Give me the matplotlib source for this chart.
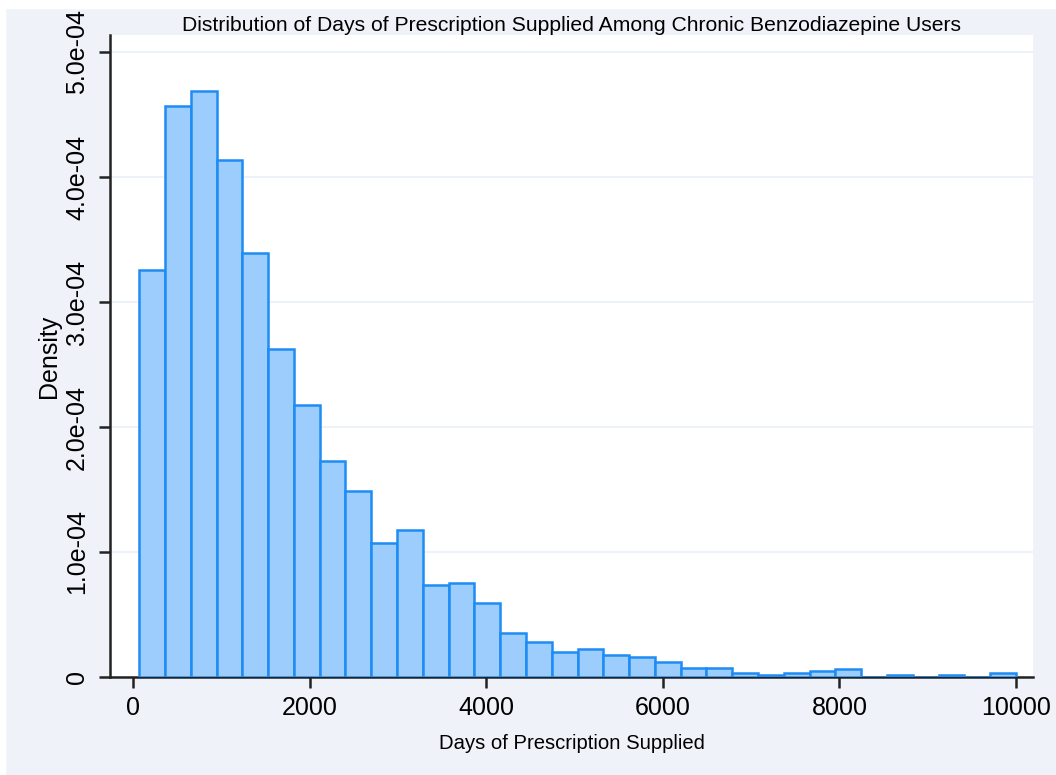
import numpy as np
import matplotlib.pyplot as plt
from matplotlib.patches import Rectangle

# histogram: 34 bins of ~292 days starting near day 70
bin_start = 70
bin_width = 292
density = [3.26, 4.57, 4.69, 4.14, 3.39, 2.62, 2.18, 1.73, 1.49, 1.07,
           1.18, 0.736, 0.752, 0.59, 0.35, 0.28, 0.20, 0.224, 0.176, 0.157,
           0.123, 0.075, 0.075, 0.035, 0.016, 0.03, 0.048, 0.061, 0.0, 0.016,
           0.0, 0.016, 0.0, 0.035]
density = np.array(density) * 1e-4

x_ticks = [0, 2000, 4000, 6000, 8000, 10000]
y_ticks = [0, 1e-4, 2e-4, 3e-4, 4e-4, 5e-4]
y_labels = ["0", "1.0e-04", "2.0e-04", "3.0e-04", "4.0e-04", "5.0e-04"]

title = "Distribution of Days of Prescription Supplied Among Chronic Benzodiazepine Users"

plt.rcParams['font.family'] = ['Liberation Sans', 'DejaVu Sans']

bg = '#eff3f9'
fig = plt.figure(figsize=(10.56, 7.75), dpi=100, facecolor=bg)
# thin white margin at top and left, as in the original export
fig.patches.append(Rectangle((0, 1 - 8/775), 1, 8/775, transform=fig.transFigure,
                             color='white', zorder=0))
fig.patches.append(Rectangle((0, 0), 5/1056, 1, transform=fig.transFigure,
                             color='white', zorder=0))

ax = fig.add_axes([110/1056, 1 - 677/775, (1033 - 110)/1056, (677 - 35)/775])
ax.set_facecolor('white')

lefts = bin_start + bin_width * np.arange(len(density))
ax.bar(lefts, density, width=bin_width, align='edge',
       color='#9dcdfc', edgecolor='#1e8cf5', linewidth=1.8, zorder=3)

ax.set_xlim(-260, 10192)
ax.set_ylim(0, 5.136e-4)
ax.set_xticks(x_ticks)
ax.set_xticklabels([str(t) for t in x_ticks], fontsize=18)
ax.set_yticks(y_ticks)
ax.set_yticklabels(y_labels, fontsize=18, rotation=90, va='center')

ax.grid(axis='y', color='#e9f0f6', linewidth=1.2, zorder=0)
ax.grid(axis='x', visible=False)

for s in ['top', 'right']:
    ax.spines[s].set_visible(False)
for s in ['left', 'bottom']:
    ax.spines[s].set_linewidth(1.8)
    ax.spines[s].set_color('#222222')
ax.tick_params(axis='both', direction='out', length=8, width=1.8, color='#222222')
ax.tick_params(axis='x', pad=6)
ax.tick_params(axis='y', pad=7)

ax.set_title(title, fontsize=15.2, pad=2)
ax.set_xlabel("Days of Prescription Supplied", fontsize=14.6, labelpad=10)
ax.set_ylabel("Density", fontsize=18, labelpad=3)

plt.savefig("out.png", dpi=100, facecolor=bg)
